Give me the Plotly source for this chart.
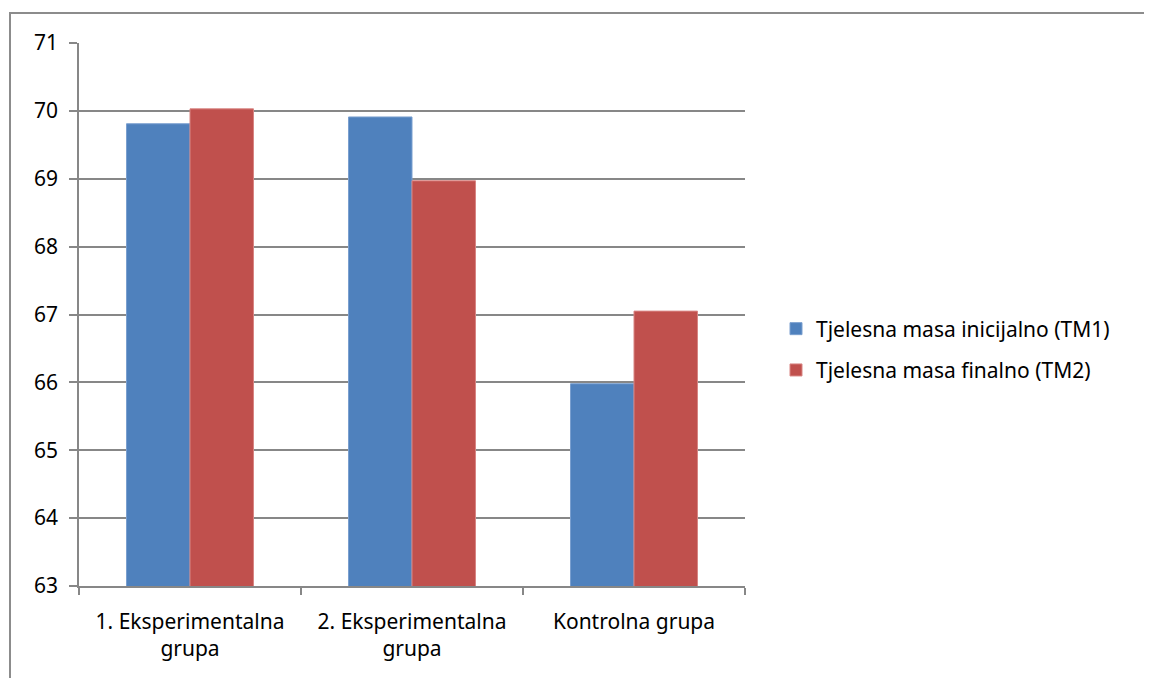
import plotly.graph_objects as go

categories = ["1. Eksperimentalna<br>grupa", "2. Eksperimentalna<br>grupa", "Kontrolna grupa"]
tm1 = [69.81, 69.91, 65.98]
tm2 = [70.03, 68.97, 67.05]
series_names = ["Tjelesna masa inicijalno (TM1)", "Tjelesna masa finalno (TM2)"]
colors = ["#4F81BD", "#C0504D"]
edge_colors = ["#7A9FCF", "#D88583"]

fig = go.Figure()
for i, (name, vals, c, ec) in enumerate(zip(series_names, [tm1, tm2], colors, edge_colors)):
    fig.add_trace(go.Bar(x=categories, y=vals, name=name, legendgroup=f"g{i}",
                         marker=dict(color=c, line=dict(color=ec, width=1))))

grid = "#878787"
font = "Noto Sans, Open Sans, Liberation Sans, sans-serif"
OFF = 8  # page body offset
W, H = 1152 - OFF, 678 - OFF
L, T = 79 - OFF, 43 - OFF
pw, ph = 666, 543
R, B = W - L - pw, H - T - ph

fig.update_layout(
    width=W, height=H,
    margin=dict(l=L, r=R, t=T, b=B),
    paper_bgcolor="white", plot_bgcolor="white",
    barmode="group", bargap=0.428, bargroupgap=0,
    font=dict(family=font, size=21, color="#000000"),
    showlegend=True,
    legend=dict(x=(776 - 79) / pw, xanchor="left", y=0.5 - 35 / ph, yanchor="middle",
                font=dict(size=21), itemwidth=30, tracegroupgap=11,
                bgcolor="rgba(0,0,0,0)"),
    xaxis=dict(type="category", showline=True, linecolor=grid, linewidth=1.5,
               ticks="outside", tickson="boundaries", ticklen=7, tickcolor=grid,
               tickwidth=1.5, showgrid=False, tickfont=dict(size=21),
               ticklabelstandoff=16),
    yaxis=dict(range=[63, 71], dtick=1, showline=True, linecolor=grid, linewidth=1.5,
               ticks="outside", ticklen=8, tickcolor=grid, tickwidth=1.5,
               showgrid=True, gridcolor=grid, gridwidth=1.5, zeroline=False,
               tickfont=dict(size=21), ticklabelstandoff=7),
    shapes=[dict(type="rect", xref="paper", yref="paper",
                 x0=(10 - 79) / pw, x1=(1152 + 20 - 79) / pw,
                 y0=-(92 + 20) / ph, y1=(586 - 13) / ph,
                 line=dict(color="#8C8C8C", width=2), layer="below")],
)

fig.write_html("out.html")
